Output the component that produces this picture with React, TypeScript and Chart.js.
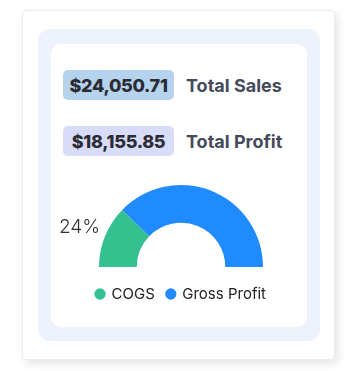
import React, { useEffect, useRef } from "react";
import { Chart, registerables } from "chart.js";

Chart.register(...registerables);

const categories = ["COGS", "Gross Profit"];
const totalSales = 24050.71;
const totalProfit = 18155.85;
const seriesValues = [totalSales - totalProfit, totalProfit];
const seriesColors = ["#34c18f", "#1f8bff"];
const statLabels = ["Total Sales", "Total Profit"];

const fmt = (v: number) =>
  "$" + v.toLocaleString("en-US", { minimumFractionDigits: 2, maximumFractionDigits: 2 });

const pctPlugin = {
  id: "pctLabel",
  afterDatasetsDraw(chart: any) {
    const meta = chart.getDatasetMeta(0);
    const arc = meta.data[0];
    if (!arc) return;
    const { x, y, startAngle, endAngle, outerRadius } = arc.getProps(
      ["x", "y", "startAngle", "endAngle", "outerRadius"],
      true
    );
    const mid = (startAngle + endAngle) / 2;
    const px = x + Math.cos(mid) * outerRadius;
    const py = y + Math.sin(mid) * outerRadius;
    const vals = chart.data.datasets[0].data as number[];
    const total = vals.reduce((a, b) => a + b, 0);
    const pct = Math.floor((vals[0] / total) * 100);
    const ctx = chart.ctx;
    ctx.save();
    ctx.font = "300 19px Inter, 'Open Sans', sans-serif";
    ctx.fillStyle = "#333333";
    ctx.textAlign = "right";
    ctx.textBaseline = "middle";
    ctx.fillText(pct + "%", px - 5, py - 9);
    ctx.restore();
  },
};

function Gauge() {
  const ref = useRef<HTMLCanvasElement>(null);
  useEffect(() => {
    if (!ref.current) return;
    const chart = new Chart(ref.current, {
      type: "doughnut",
      data: {
        labels: categories,
        datasets: [
          {
            data: seriesValues,
            backgroundColor: seriesColors,
            borderWidth: 0,
          },
        ],
      },
      options: {
        animation: false,
        responsive: false,
        rotation: -90,
        circumference: 180,
        radius: 82,
        cutout: "54%",
        layout: { padding: { top: 7.5, bottom: 8.5, left: 0, right: 0 } },
        plugins: {
          tooltip: { enabled: false },
          legend: {
            position: "bottom",
            labels: {
              usePointStyle: true,
              pointStyle: "circle",
              boxWidth: 8,
              boxHeight: 8,
              padding: 12,
              color: "#222222",
              font: { family: "Inter, 'Open Sans', sans-serif", size: 15, weight: "400" },
            },
          },
        },
      },
      plugins: [pctPlugin],
    });
    return () => chart.destroy();
  }, []);
  return (
    <canvas
      ref={ref}
      width={260}
      height={150}
      style={{ position: "absolute", left: 51, top: 170, width: 260, height: 150 }}
    />
  );
}

const badge = (bg: string): React.CSSProperties => ({
  position: "absolute",
  left: 63,
  width: 111,
  height: 30,
  borderRadius: 5,
  background: bg,
  color: "#2a2b33",
  font: "800 18px Inter, sans-serif",
  display: "flex",
  alignItems: "center",
  justifyContent: "center",
  letterSpacing: "-0.3px",
});

const label: React.CSSProperties = {
  position: "absolute",
  left: 186,
  height: 30,
  display: "flex",
  alignItems: "center",
  color: "#454b5b",
  font: "700 18px Inter, sans-serif",
  whiteSpace: "nowrap",
};

export default function App() {
  return (
    <div style={{ position: "absolute", left: 0, top: 0, width: 358, height: 371, background: "#ffffff", overflow: "hidden" }}>
      <div
        style={{
          position: "absolute",
          left: 22,
          top: 10,
          width: 313,
          height: 350,
          background: "#ffffff",
          border: "1px solid #ececec",
          borderRadius: 4,
          boxShadow: "3px 4px 10px rgba(0,0,0,0.10)",
          boxSizing: "border-box",
        }}
      />
      <div
        style={{
          position: "absolute",
          left: 38,
          top: 29,
          width: 282,
          height: 312,
          background: "#edf2fd",
          borderRadius: 12,
        }}
      />
      <div
        style={{
          position: "absolute",
          left: 51,
          top: 44,
          width: 256,
          height: 283,
          background: "#ffffff",
          borderRadius: 10,
        }}
      />
      <div style={{ ...badge("#b5d3ec"), top: 70 }}>{fmt(totalSales)}</div>
      <div style={{ ...label, top: 70 }}>{statLabels[0]}</div>
      <div style={{ ...badge("#d9dcf8"), top: 126 }}>{fmt(totalProfit)}</div>
      <div style={{ ...label, top: 126 }}>{statLabels[1]}</div>
      <Gauge />
    </div>
  );
}
